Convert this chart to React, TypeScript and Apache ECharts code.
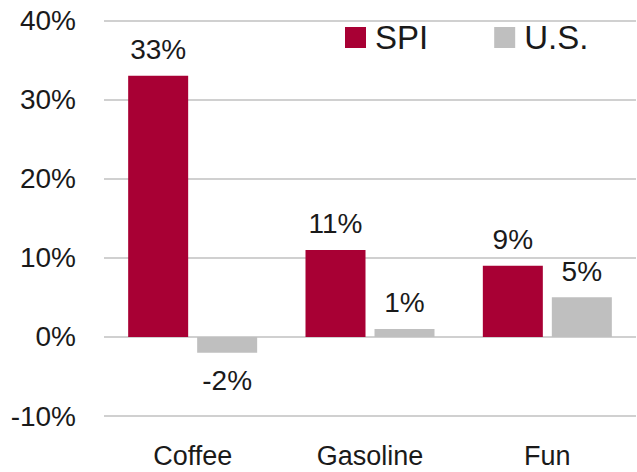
import React, { useEffect, useRef } from "react";
import * as echarts from "echarts";

const categories = ["Coffee", "Gasoline", "Fun"];
const spiValues = [33, 11, 9];
const usValues = [-2, 1, 5];
const seriesNames = ["SPI", "U.S."];

const FONT = "'Liberation Sans', Arial, sans-serif";

export default function App() {
  const ref = useRef<HTMLDivElement>(null);
  useEffect(() => {
    if (!ref.current) return;
    const chart = echarts.init(ref.current, null, { renderer: "svg" });
    const mkData = (vals: number[]) =>
      vals.map((v) =>
        v < 0
          ? { value: v, label: { position: "bottom", distance: 14 } }
          : { value: v }
      );
    chart.setOption({
      animation: false,
      textStyle: { fontFamily: FONT },
      legend: {
        data: seriesNames,
        left: 340,
        top: 16,
        itemWidth: 21,
        itemHeight: 21,
        itemGap: 66,
        icon: "rect",
        textStyle: {
          fontFamily: FONT,
          fontSize: 33,
          color: "#1a1a1a",
          padding: [0, 0, 0, 4],
        },
      },
      grid: { left: 104, right: 1, top: 20.5, bottom: 56 },
      xAxis: {
        type: "category",
        data: categories,
        axisLine: { show: false },
        axisTick: { show: false },
        axisLabel: {
          fontFamily: FONT,
          fontSize: 27,
          color: "#1a1a1a",
          margin: 26,
        },
      },
      yAxis: {
        type: "value",
        min: -10,
        max: 40,
        interval: 10,
        axisLine: { show: false },
        axisTick: { show: false },
        splitLine: { lineStyle: { color: "#c0c0c0", width: 1.5 } },
        axisLabel: {
          fontFamily: FONT,
          fontSize: 28,
          color: "#1a1a1a",
          margin: 28,
          formatter: "{value}%",
        },
      },
      series: [
        {
          name: seriesNames[0],
          type: "bar",
          data: mkData(spiValues),
          barWidth: 60,
          barGap: "15%",
          itemStyle: { color: "#A80034" },
          label: {
            show: true,
            position: "top",
            distance: 12,
            formatter: "{c}%",
            fontFamily: FONT,
            fontSize: 28,
            color: "#1a1a1a",
          },
        },
        {
          name: seriesNames[1],
          type: "bar",
          data: mkData(usValues),
          barWidth: 60,
          barGap: "15%",
          itemStyle: { color: "#BFBFBF" },
          label: {
            show: true,
            position: "top",
            distance: 12,
            formatter: "{c}%",
            fontFamily: FONT,
            fontSize: 28,
            color: "#1a1a1a",
          },
        },
      ],
    });
    return () => chart.dispose();
  }, []);
  return <div ref={ref} style={{ width: 637, height: 472, position: "absolute", left: 0, top: 0 }} />;
}
